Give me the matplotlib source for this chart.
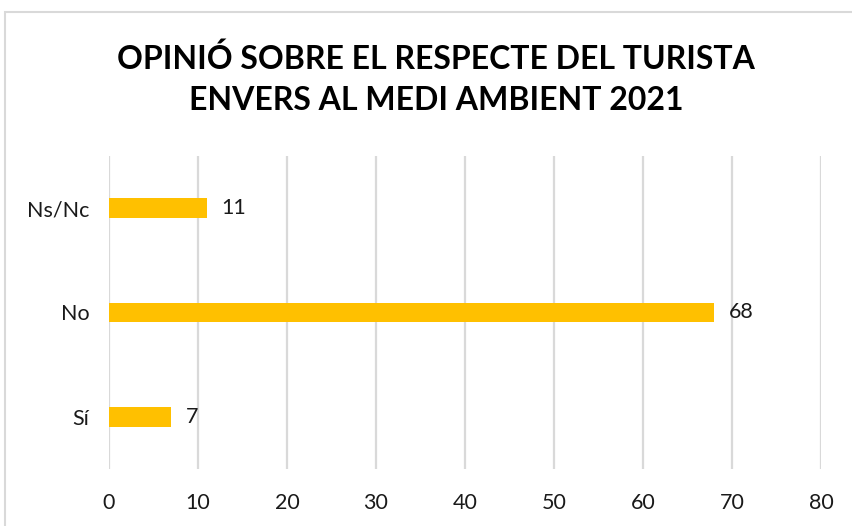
import matplotlib.pyplot as plt
from matplotlib.patches import Rectangle

# Chart data
categories = ['Sí', 'No', 'Ns/Nc']
values = [7, 68, 11]
xticks = [0, 10, 20, 30, 40, 50, 60, 70, 80]
title = 'OPINIÓ SOBRE EL RESPECTE DEL TURISTA\nENVERS AL MEDI AMBIENT 2021'

plt.rcParams['font.family'] = ['Lato', 'DejaVu Sans']

W, H = 853, 526
fig = plt.figure(figsize=(W / 100, H / 100), dpi=100)

# outer chart border (top and left visible, rest cut off)
fig.patches.append(Rectangle((5 / W, -0.1), 1.2, 1 - 12 / H + 0.1,
                             transform=fig.transFigure, fill=False,
                             edgecolor='#d9d9d9', linewidth=1.5))

ax = fig.add_axes([109 / W, 1 - 469 / H, (821 - 109) / W, (469 - 156) / H])

ypos = range(len(categories))
ax.barh(ypos, values, height=0.19, color='#FFC000', zorder=3)
for y, v in zip(ypos, values):
    ax.text(v + 1.6, y, str(v), va='center', ha='left', fontsize=15.5, color='#1a1a1a')

ax.set_xlim(0, 80)
ax.set_ylim(-0.5, 2.5)
ax.set_xticks(xticks)
ax.set_yticks(list(ypos))
ax.set_yticklabels(categories)
ax.tick_params(axis='both', length=0, labelsize=15.5, labelcolor='#1a1a1a')
ax.tick_params(axis='x', pad=17)
ax.tick_params(axis='y', pad=14)
ax.grid(axis='x', color='#d9d9d9', linewidth=1.6, zorder=0)
for s in ax.spines.values():
    s.set_visible(False)

fig.text(436 / W, 1 - 79 / H, title, ha='center', va='center',
         fontsize=23, fontweight='bold', linespacing=1.5)

fig.savefig('out.png', dpi=100)
